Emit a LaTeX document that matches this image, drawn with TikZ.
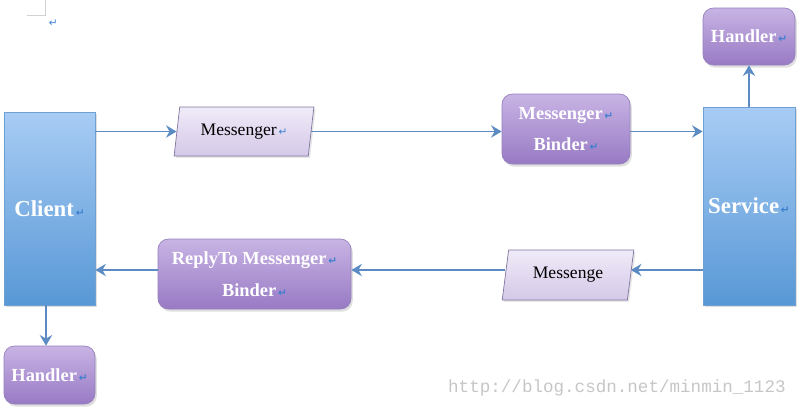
\documentclass[tikz,border=0pt]{standalone}
\usepackage{fontspec}
\setmainfont{Liberation Serif}
\newfontfamily\marksfont{DejaVu Sans}
\newfontfamily\webfont{Liberation Mono}
\usetikzlibrary{shapes.geometric,arrows.meta,shadows}
\definecolor{arrowblue}{HTML}{5B8BC2}
\definecolor{marker}{HTML}{3F7FD0}
\newcommand{\pmark}{{\marksfont\fontsize{6pt}{6pt}\selectfont\color{marker}\,↵}}

\begin{document}
\begin{tikzpicture}[
		x=1cm,y=1cm,
		every node/.style={inner sep=0pt},
		flow/.style={draw=arrowblue,line width=1.1pt,-{Stealth[length=6pt,width=7pt,inset=2pt]}},
		actor/.style={rectangle,top color={rgb,255:red,168;green,204;blue,244},bottom color={rgb,255:red,88;green,152;blue,214},draw={rgb,255:red,110;green,160;blue,212},text=white,font=\fontsize{13pt}{15pt}\selectfont\bfseries,drop shadow={opacity=0.25,shadow xshift=1pt,shadow yshift=-1pt}},
		purplebox/.style={rectangle,rounded corners=6pt,top color={rgb,255:red,200;green,180;blue,228},bottom color={rgb,255:red,152;green,122;blue,196},draw={rgb,255:red,150;green,128;blue,190},text=white,align=center,font=\fontsize{10.5pt}{18pt}\selectfont\bfseries,drop shadow={opacity=0.25,shadow xshift=1pt,shadow yshift=-1.5pt}},
		letter/.style={trapezium,trapezium left angle=76,trapezium right angle=104,trapezium stretches=true,top color={rgb,255:red,240;green,235;blue,248},bottom color={rgb,255:red,212;green,200;blue,232},draw={rgb,255:red,130;green,118;blue,160},font=\fontsize{10pt}{12pt}\selectfont,drop shadow={opacity=0.2,shadow xshift=1pt,shadow yshift=-1pt}}
		]
		\useasboundingbox (0,0) rectangle (16,-8.16);
		\node[actor,minimum width=1.82cm,minimum height=3.86cm] (client) at (0.99,-4.17) {Client\pmark};
		\node[actor,minimum width=1.84cm,minimum height=3.96cm] (service) at (14.98,-4.12) {Service\pmark};
		\node[purplebox,minimum width=1.84cm,minimum height=1.14cm] (handlerS) at (14.98,-0.73) {Handler\pmark};
		\node[purplebox,minimum width=1.82cm,minimum height=1.16cm] (handlerC) at (0.99,-7.5) {Handler\pmark};
		\node[letter,minimum width=2.8cm,minimum height=0.98cm] (msgTop) at (4.88,-2.63) {Messenger\pmark};
		\node[purplebox,minimum width=2.56cm,minimum height=1.4cm] (binder) at (11.32,-2.58) {Messenger\pmark\\Binder\pmark};
		\node[purplebox,minimum width=3.86cm,minimum height=1.4cm] (reply) at (5.09,-5.48) {ReplyTo Messenger\pmark\\Binder\pmark};
		\node[letter,minimum width=2.64cm,minimum height=1.0cm] (msgBot) at (11.36,-5.5) {Messenge};
		\draw[flow] (client.east |- msgTop.west) -- (msgTop.west);
		\draw[flow] (msgTop.east) -- (msgTop.east -| binder.west);
		\draw[flow] (binder.east |- msgTop.east) -- (service.west |- msgTop.east);
		\draw[flow] (service.west |- 0,-5.4) -- (msgBot.east |- 0,-5.4);
		\draw[flow] (msgBot.west |- 0,-5.4) -- (reply.east |- 0,-5.4);
		\draw[flow] (reply.west |- 0,-5.4) -- (client.east |- 0,-5.4);
		\draw[flow] (service.north) -- (handlerS.south);
		\draw[flow] (client.south -| 0.92,0) -- (handlerC.north -| 0.92,0);
		\draw[gray!35,line width=0.5pt] (0.9,0) -- (0.9,-0.3) -- (0.54,-0.3);
		\node (mark) at (1.05,-0.47) {\pmark};
		\node[text=gray!45,font=\webfont\fontsize{10pt}{12pt}\selectfont,anchor=east] (url) at (15.72,-7.76) {http://blog.csdn.net/minmin\_1123};
		\end{tikzpicture}
\end{document}
